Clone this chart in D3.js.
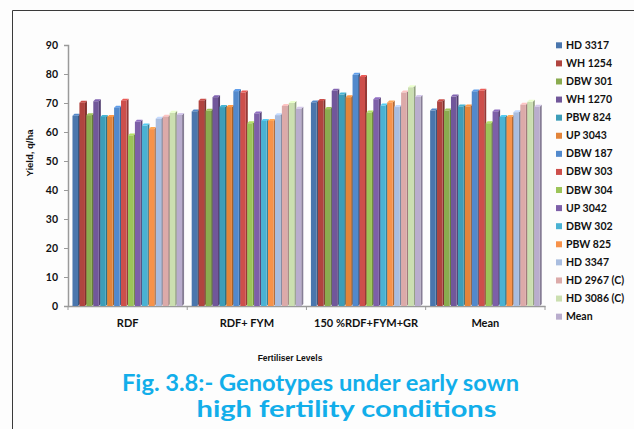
<!DOCTYPE html>
<html>
<head>
<meta charset="utf-8">
<script src="https://cdn.jsdelivr.net/npm/d3@7"></script>
<style>
  html, body { margin: 0; padding: 0; background: #fdfdfd; }
  svg { display: block; }
</style>
</head>
<body>
<svg id="chart" width="634" height="429"></svg>
<script>
// ---- Data ----
const categories = ["RDF", "RDF+ FYM", "150 %RDF+FYM+GR", "Mean"];
const genotypes = ["HD 3317", "WH 1254", "DBW 301", "WH 1270", "PBW 824", "UP 3043", "DBW 187", "DBW 303",
                   "DBW 304", "UP 3042", "DBW 302", "PBW 825", "HD 3347", "HD 2967 (C)", "HD 3086 (C)", "Mean"];
const rdf     = [65.6, 70.1, 65.8, 70.6, 65.2, 65.2, 68.4, 70.8, 58.8, 63.5, 62.2, 61.0, 64.6, 65.3, 66.6, 65.9];
const rdfFym  = [67.1, 70.8, 67.3, 72.0, 68.6, 68.6, 74.1, 73.6, 63.0, 66.4, 63.8, 63.8, 65.8, 69.0, 70.0, 68.0];
const rdf150  = [70.2, 70.7, 67.9, 74.2, 72.9, 72.0, 79.7, 79.0, 66.7, 71.3, 69.1, 70.2, 68.6, 73.6, 75.4, 72.1];
const meanLev = [67.4, 70.6, 67.4, 72.2, 68.8, 68.8, 74.0, 74.2, 63.0, 67.1, 65.2, 65.2, 66.8, 69.4, 70.4, 68.7];
const yTicks  = [0, 10, 20, 30, 40, 50, 60, 70, 80, 90];
const colors  = ["#4a76ad", "#b0443f", "#8aab4f", "#71579a", "#3d9db8", "#e2843a", "#5289cc", "#cd4f4b",
                 "#9cc458", "#7d5fa8", "#4ab2d3", "#f7924a", "#a9bddf", "#dcaaa9", "#cbdfb0", "#b9adcd"];

const table = categories.map((c, i) => ({
  category: c,
  values: [rdf, rdfFym, rdf150, meanLev][i].map((v, j) => ({ genotype: genotypes[j], value: v, idx: j }))
}));

// ---- Layout ----
const svg = d3.select("#chart");
const plot = { left: 68, right: 545, top: 45, bottom: 306 };

const x0 = d3.scaleBand().domain(categories).range([plot.left, plot.right])
  .paddingInner(0.069).paddingOuter(0.035);
const x1 = d3.scaleBand().domain(genotypes).range([0, x0.bandwidth()]);
const y = d3.scaleLinear().domain([0, 90]).range([plot.bottom, plot.top]);

// frame lines
svg.append("line").attr("x1", 12.5).attr("x2", 634).attr("y1", 10.5).attr("y2", 10.5)
  .attr("stroke", "#3a3a3a").attr("stroke-width", 1);
svg.append("line").attr("x1", 12.5).attr("x2", 12.5).attr("y1", 10.5).attr("y2", 429)
  .attr("stroke", "#3a3a3a").attr("stroke-width", 1);

// Y axis
const yAxis = d3.axisLeft(y).tickValues(yTicks).tickSize(4).tickPadding(6);
const gy = svg.append("g").attr("transform", `translate(${plot.left},0)`).call(yAxis);
gy.select(".domain").attr("stroke", "#9a9a9a").attr("stroke-width", 1.5);
gy.selectAll(".tick line").attr("stroke", "#9a9a9a");
gy.selectAll(".tick text").attr("font-family", "Lato, sans-serif").attr("font-weight", 700)
  .attr("font-size", "10.5px").attr("fill", "#111");

// X axis
const xAxis = d3.axisBottom(x0).tickSize(0).tickPadding(13);
const gx = svg.append("g").attr("transform", `translate(0,${plot.bottom})`).call(xAxis);
gx.select(".domain").attr("stroke", "#9a9a9a").attr("stroke-width", 1.5);
gx.selectAll(".tick text").attr("font-family", "Lato, sans-serif").attr("font-weight", 700)
  .attr("font-size", "11px").attr("fill", "#111");
// category boundary ticks
const step = x0.step();
const bounds = categories.map((c, i) => x0(c) - x0.paddingOuter() * step).concat([plot.right]);
gx.selectAll(".bound").data(bounds).enter().append("line")
  .attr("x1", d => d).attr("x2", d => d).attr("y1", 0).attr("y2", 4)
  .attr("stroke", "#9a9a9a");

// Bars (pseudo 3D)
const d = 2;
const groups = svg.append("g").selectAll("g").data(table).enter().append("g")
  .attr("transform", dd => `translate(${x0(dd.category)},0)`);
groups.each(function(grp) {
  const g = d3.select(this);
  grp.values.forEach(v => {
    const bx = x1(v.genotype) + 0.3;
    const w = x1.bandwidth() - d + 0.6;
    const yt = y(v.value), yb = y(0);
    const base = d3.color(colors[v.idx]);
    g.append("polygon")
      .attr("points", [[bx + w, yt], [bx + w + d, yt - d], [bx + w + d, yb - d], [bx + w, yb]].join(" "))
      .attr("fill", base.darker(0.9));
    g.append("polygon")
      .attr("points", [[bx, yt], [bx + d, yt - d], [bx + w + d, yt - d], [bx + w, yt]].join(" "))
      .attr("fill", base.brighter(0.4));
    g.append("rect").attr("x", bx).attr("y", yt).attr("width", w).attr("height", yb - yt)
      .attr("fill", base);
  });
});

// Axis titles
svg.append("text").attr("transform", `translate(33,153) rotate(-90)`)
  .attr("text-anchor", "middle").attr("font-family", "Liberation Sans, Arial, sans-serif")
  .attr("font-weight", 700).attr("font-size", "9.5px").attr("fill", "#111").text("Yield, q/ha");
svg.append("text").attr("x", 290).attr("y", 361).attr("text-anchor", "middle")
  .attr("font-family", "Liberation Sans, Arial, sans-serif").attr("font-weight", 700)
  .attr("font-size", "8.5px").attr("fill", "#111").text("Fertiliser Levels");

// Legend
const lg = svg.append("g").selectAll("g").data(genotypes).enter().append("g")
  .attr("transform", (g, i) => `translate(556,${45.3 + i * 18.09})`);
lg.append("rect").attr("x", 0).attr("y", -3).attr("width", 6).attr("height", 6)
  .attr("fill", (g, i) => colors[i]);
lg.append("text").attr("x", 10).attr("y", 3.5).attr("font-family", "Lato, sans-serif")
  .attr("font-weight", 700).attr("font-size", "10.5px").attr("fill", "#111").text(g => g);

// Title
const title1 = "Fig. 3.8:- Genotypes under early sown";
const title2 = "high fertility conditions";
svg.append("text").attr("x", 320.5).attr("y", 391).attr("text-anchor", "middle")
  .attr("font-family", "Lato, sans-serif").attr("font-weight", 700).attr("font-size", "23.5px")
  .attr("fill", "#12aeea").attr("textLength", 397).attr("lengthAdjust", "spacingAndGlyphs").text(title1);
svg.append("text").attr("x", 346.5).attr("y", 416.5).attr("text-anchor", "middle")
  .attr("font-family", "Lato, sans-serif").attr("font-weight", 700).attr("font-size", "23.5px")
  .attr("fill", "#12aeea").attr("textLength", 300).attr("lengthAdjust", "spacingAndGlyphs").text(title2);
</script>
</body>
</html>
